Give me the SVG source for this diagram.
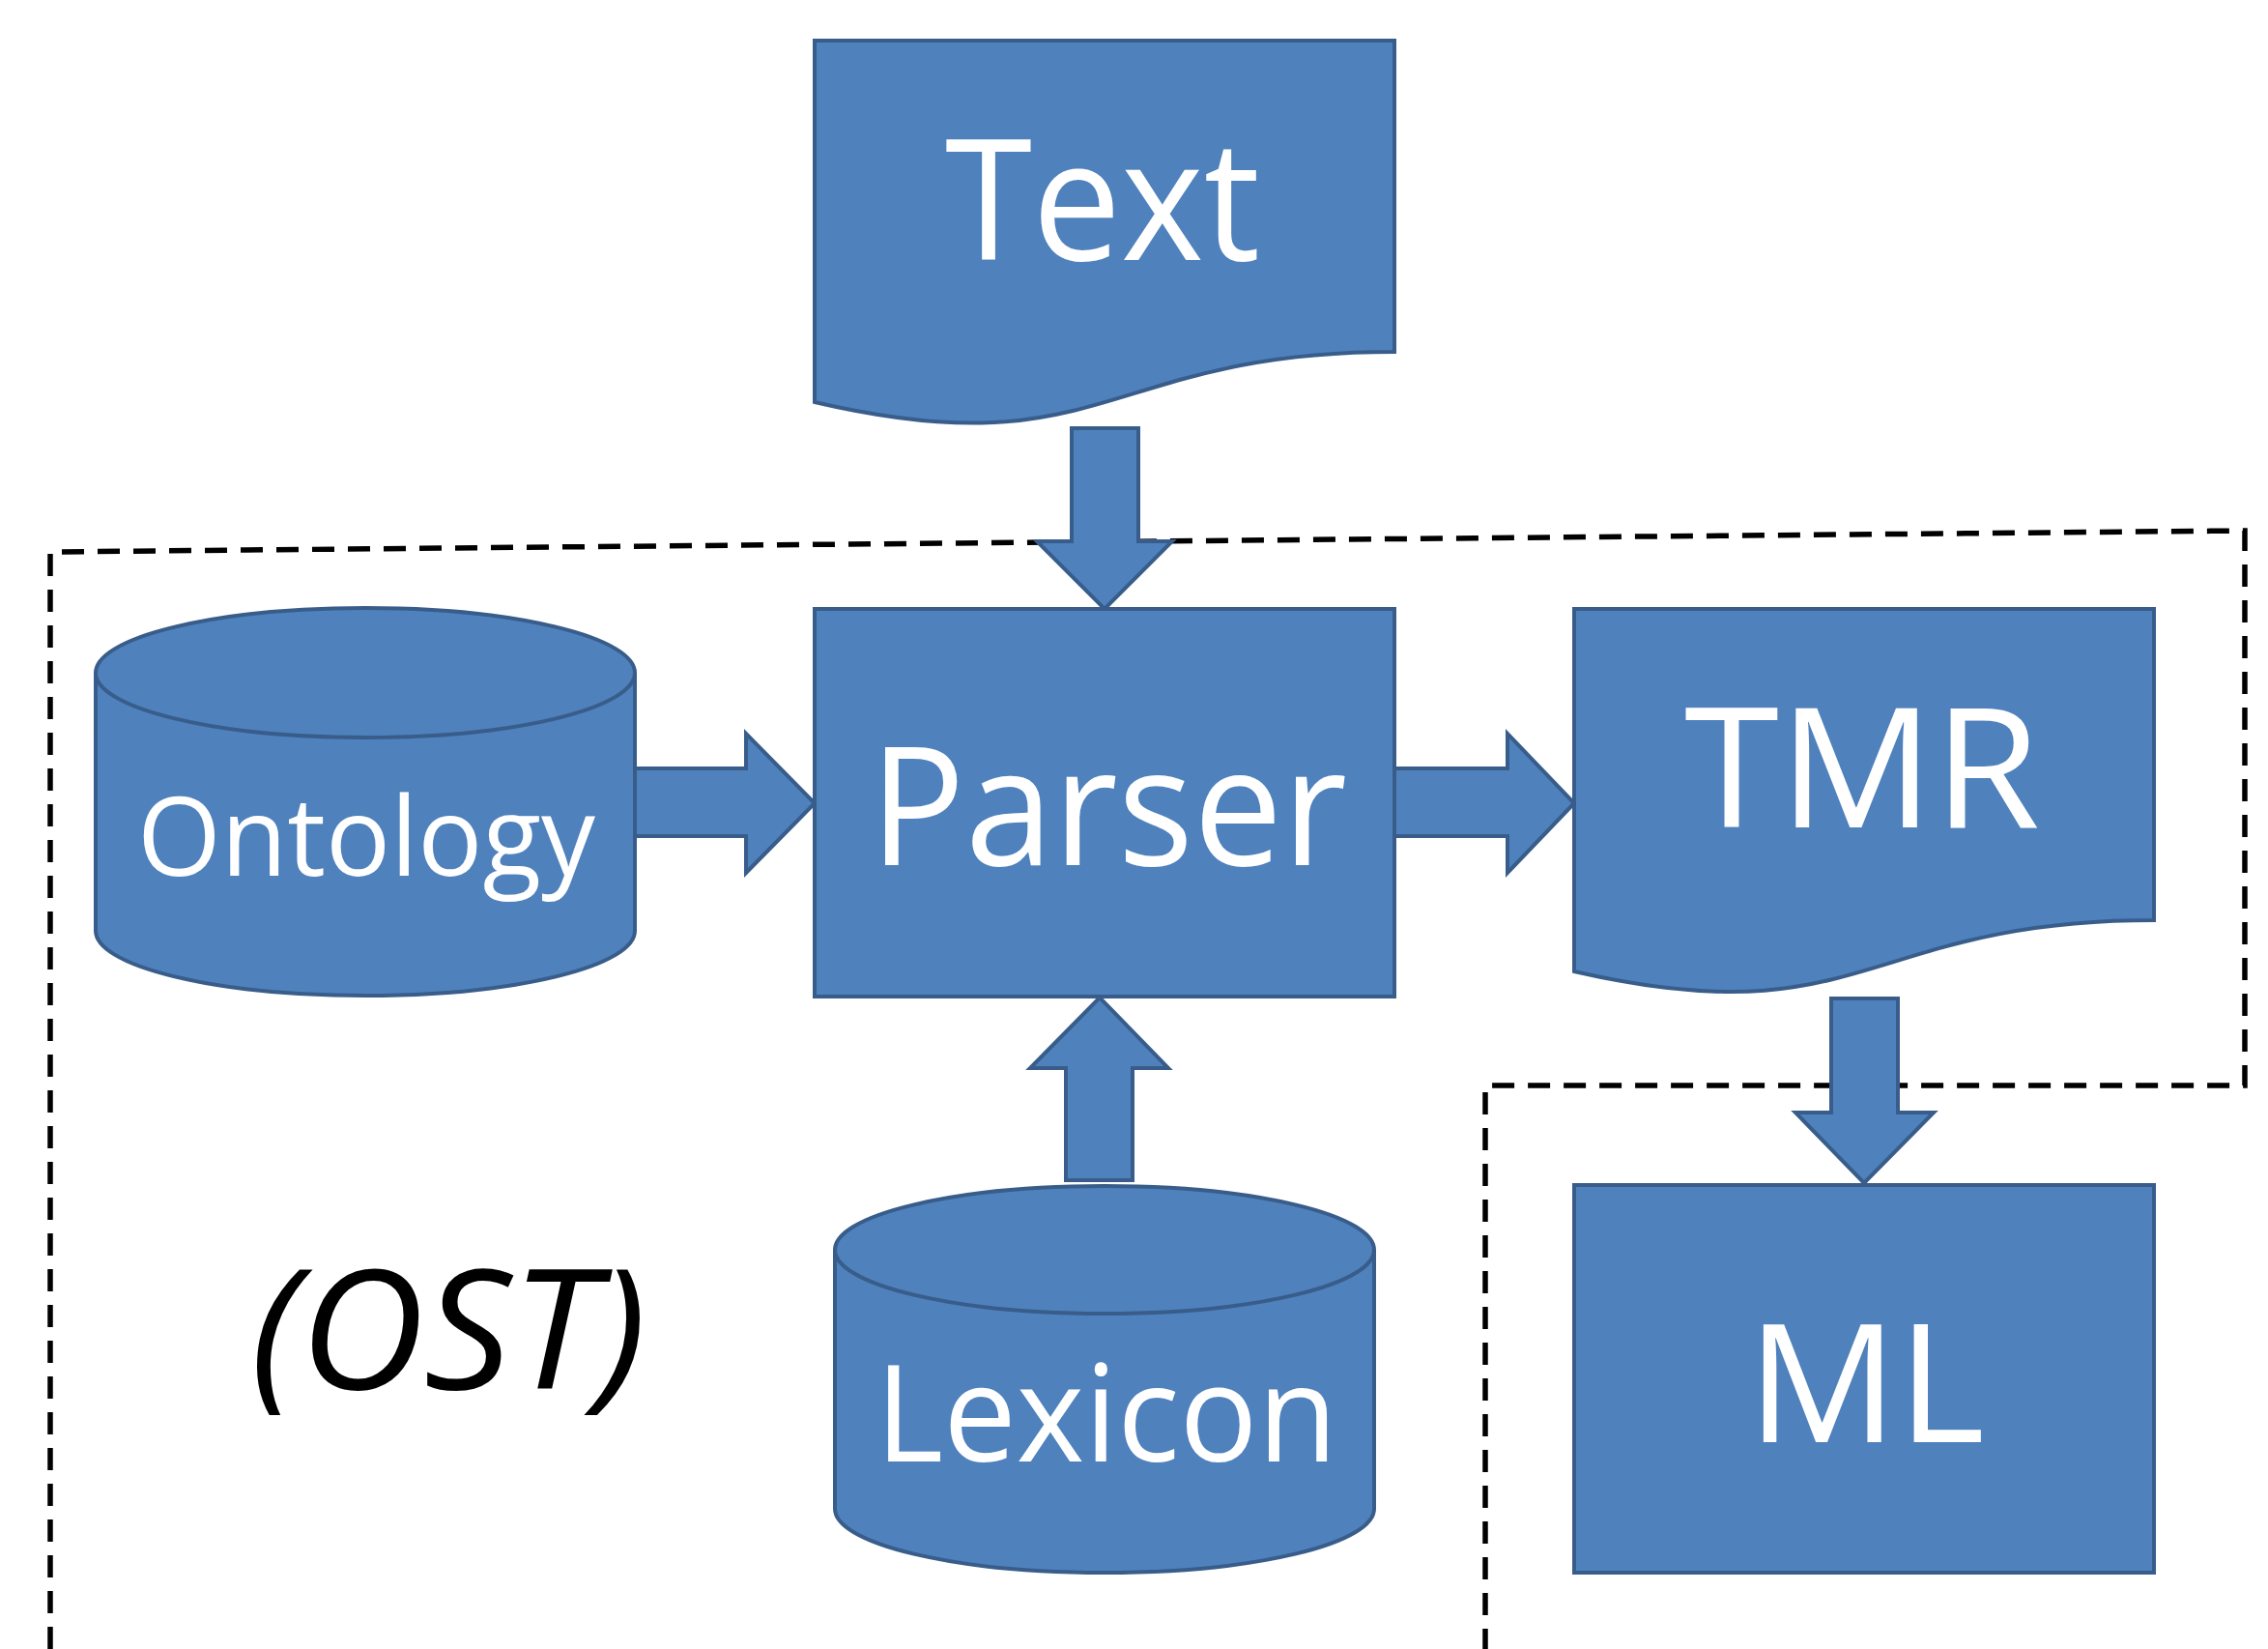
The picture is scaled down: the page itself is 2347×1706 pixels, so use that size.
<svg xmlns="http://www.w3.org/2000/svg" width="2347" height="1706" viewBox="0 0 2347 1706">
<style>
.shape{fill:#4f81bd;stroke:#385d8a;stroke-width:4;stroke-linejoin:miter}
.edge{fill:none;stroke:#385d8a;stroke-width:4}
.arrow{fill:#4f81bd;stroke:#385d8a;stroke-width:4;stroke-linejoin:miter}
.dash{fill:none;stroke:#000;stroke-width:5.5;stroke-dasharray:23 14}
.lbl{fill:#fff;font-family:"Open Sans","Noto Sans",sans-serif;text-anchor:middle}
.ost{fill:#000;font-family:"Open Sans","Noto Sans",sans-serif;font-style:italic;text-anchor:middle}
</style>
<rect x="0" y="0" width="2347" height="1706" fill="#fff"/>
<g id="boundaries">
  <path class="dash" d="M52,1706 V571 L2323,549 V1123 H1537 V1706"/>
</g>
<g id="connectors">
  <path class="arrow" d="M1109,443 H1178 V560 H1213 L1143,630 L1073,560 H1109 Z"/>
  <path class="arrow" d="M657,795 H772 V759 L843,831 L772,903 V865 H657 Z"/>
  <path class="arrow" d="M1443,795 H1560 V759 L1629,831 L1560,903 V865 H1443 Z"/>
  <path class="arrow" d="M1895,1033 H1964 V1151 H2001 L1929,1224 L1858,1151 H1895 Z"/>
  <path class="arrow" d="M1103,1221 V1105 H1066 L1138,1032 L1209,1105 H1172 V1221 Z"/>
</g>
<g id="node-text">
  <path class="shape" d="M843,42 H1443 V364 C1143,364 1143,486 843,416 Z"/>
  <text class="lbl" x="1141" y="269" font-size="174" textLength="326" lengthAdjust="spacingAndGlyphs">Text</text>
</g>
<g id="node-parser">
  <rect class="shape" x="843" y="630" width="600" height="401"/>
  <text class="lbl" x="1147" y="895" font-size="170" textLength="494" lengthAdjust="spacingAndGlyphs">Parser</text>
</g>
<g id="node-ontology">
  <path class="shape" d="M99,696 A279,67 0 0 1 657,696 V963 A279,67 0 0 1 99,963 Z"/>
  <path class="edge" d="M99,696 A279,67 0 0 0 657,696"/>
  <text class="lbl" x="379" y="906" font-size="113" textLength="474" lengthAdjust="spacingAndGlyphs">Ontology</text>
</g>
<g id="node-tmr">
  <path class="shape" d="M1629,630 H2229 V952 C1929,952 1929,1074 1629,1005 Z"/>
  <text class="lbl" x="1927" y="856" font-size="172" textLength="368" lengthAdjust="spacingAndGlyphs">TMR</text>
</g>
<g id="node-ml">
  <rect class="shape" x="1629" y="1226" width="600" height="401"/>
  <text class="lbl" x="1931" y="1492" font-size="170" textLength="246" lengthAdjust="spacingAndGlyphs">ML</text>
</g>
<g id="node-lexicon">
  <path class="shape" d="M864,1293 A279,66 0 0 1 1422,1293 V1561 A279,66 0 0 1 864,1561 Z"/>
  <path class="edge" d="M864,1293 A279,66 0 0 0 1422,1293"/>
  <text class="lbl" x="1145" y="1512" font-size="139" textLength="478" lengthAdjust="spacingAndGlyphs">Lexicon</text>
</g>
<g id="label-ost">
  <text class="ost" x="464" y="1437" font-size="172" textLength="410" lengthAdjust="spacingAndGlyphs">(OST)</text>
</g>
</svg>
